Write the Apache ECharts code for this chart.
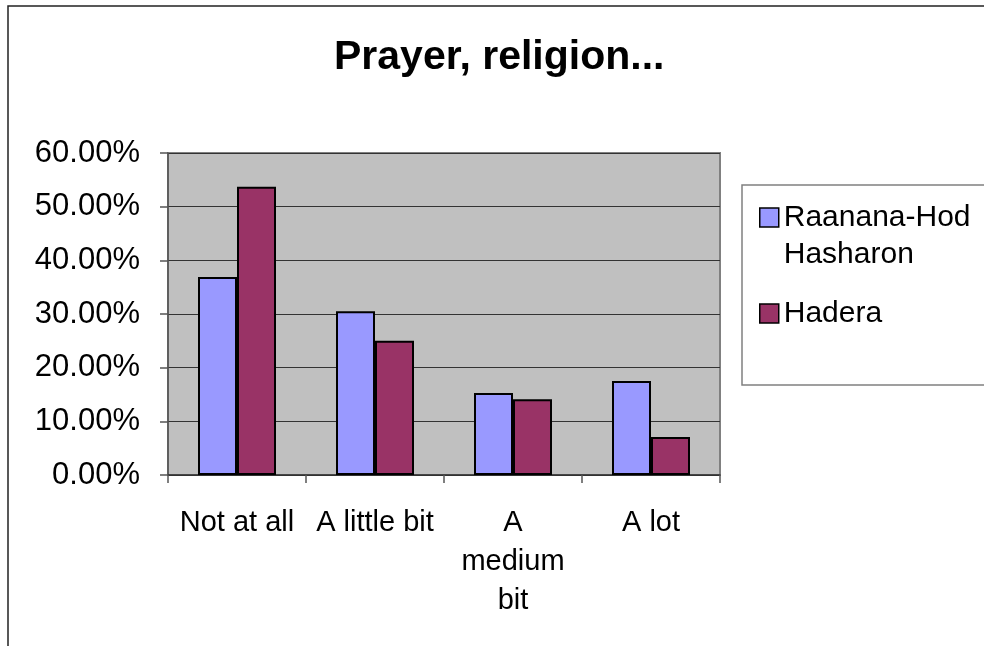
<!DOCTYPE html>
<html>
<head>
<meta charset="utf-8">
<script src="https://cdn.jsdelivr.net/npm/echarts@6/dist/echarts.min.js"></script>
<style>
html,body{margin:0;padding:0;background:#fff;}
#chart{width:984px;height:646px;}
</style>
</head>
<body>
<div id="chart"></div>
<script>
const titleText = 'Prayer, religion...';
const categories = ['Not at all', 'A little bit', 'A medium bit', 'A lot'];
const seriesNames = ['Raanana-Hod Hasharon', 'Hadera'];
const raananaValues = [0.369, 0.305, 0.153, 0.175];
const haderaValues = [0.537, 0.250, 0.141, 0.071];
const yTicks = [0, 0.1, 0.2, 0.3, 0.4, 0.5, 0.6];

const FONT = '"Liberation Sans", Arial, sans-serif';
const chart = echarts.init(document.getElementById('chart'), null, {renderer: 'canvas'});

const option = {
  backgroundColor: '#ffffff',
  animation: false,
  textStyle: {fontFamily: FONT},
  title: {
    text: titleText,
    left: 334,
    top: 37,
    padding: 0,
    textStyle: {fontFamily: FONT, fontSize: 41, fontWeight: 'bold', color: '#000'}
  },
  graphic: [
    {type: 'rect', silent: true,
     shape: {x: 8, y: 6, width: 990, height: 660},
     style: {fill: 'none', stroke: '#222', lineWidth: 1.5}},
    {type: 'rect', silent: true, z: 1,
     shape: {x: 742, y: 185, width: 260, height: 200},
     style: {fill: '#fff', stroke: '#808080', lineWidth: 1.5}}
  ],
  legend: {
    orient: 'vertical',
    left: 759,
    top: 162,
    padding: 0,
    itemGap: 22,
    itemWidth: 19,
    itemHeight: 19,
    icon: 'rect',
    z: 5,
    itemStyle: {borderColor: '#000', borderWidth: 1.5},
    formatter: function (name) {
      return name === 'Raanana-Hod Hasharon' ? ' \nRaanana-Hod\nHasharon' : name;
    },
    textStyle: {fontFamily: FONT, fontSize: 30, color: '#000', lineHeight: 37},
    data: seriesNames
  },
  grid: {
    left: 168, right: 264, top: 153, bottom: 171,
    show: true,
    backgroundColor: '#C0C0C0',
    borderColor: '#808080',
    borderWidth: 2
  },
  xAxis: {
    type: 'category',
    data: categories,
    boundaryGap: true,
    axisLine: {show: true, lineStyle: {color: '#333', width: 1.5}},
    axisTick: {show: true, length: 8, lineStyle: {color: '#555', width: 1.5}, alignWithLabel: false},
    axisLabel: {
      interval: 0,
      margin: 28,
      fontFamily: FONT,
      fontSize: 29,
      lineHeight: 39,
      color: '#000',
      formatter: function (v) { return v === 'A medium bit' ? 'A\nmedium\nbit' : v; }
    },
    splitLine: {show: false}
  },
  yAxis: {
    type: 'value',
    min: yTicks[0],
    max: yTicks[yTicks.length - 1],
    interval: 0.1,
    axisLine: {show: true, lineStyle: {color: '#555', width: 1.5}},
    axisTick: {show: true, length: 8, lineStyle: {color: '#555', width: 1.5}},
    axisLabel: {
      margin: 28,
      fontFamily: FONT,
      fontSize: 31,
      color: '#000',
      formatter: function (v) { return (v * 100).toFixed(2) + '%'; }
    },
    splitLine: {show: true, lineStyle: {color: '#333', width: 1}}
  },
  series: [
    {
      name: seriesNames[0], type: 'bar', data: raananaValues,
      barWidth: 39, barGap: '0%',
      itemStyle: {color: '#9999FF', borderColor: '#000', borderWidth: 2}
    },
    {
      name: seriesNames[1], type: 'bar', data: haderaValues,
      barWidth: 39, barGap: '0%',
      itemStyle: {color: '#993366', borderColor: '#000', borderWidth: 2}
    }
  ]
};
chart.setOption(option);
</script>
</body>
</html>
